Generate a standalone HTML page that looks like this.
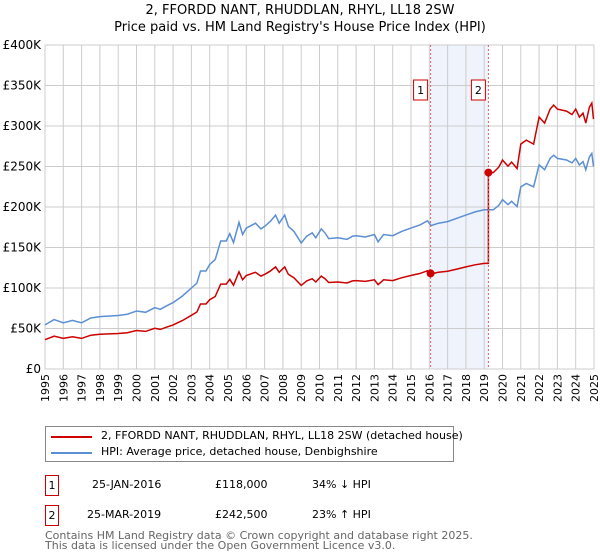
<!DOCTYPE html>
<html><head><meta charset="utf-8"><style>
body{margin:0;width:600px;height:560px;background:#fff;font-family:"DejaVu Sans","Liberation Sans",sans-serif;overflow:hidden;position:relative}
.t{position:absolute;font-size:12px;color:#000;white-space:nowrap}
</style></head><body>
<div class="t" style="left:0;width:600px;text-align:center;top:3px;font-size:13px">2, FFORDD NANT, RHUDDLAN, RHYL, LL18 2SW</div>
<div class="t" style="left:0;width:600px;text-align:center;top:20px;font-size:13px">Price paid vs. HM Land Registry's House Price Index (HPI)</div>
<svg id="c" width="600" height="420" style="position:absolute;left:0;top:0"></svg>
<div style="position:absolute;left:45px;top:426px;width:407px;height:34px;border:1px solid #888;font-size:11px">
<div style="position:absolute;left:5px;top:9px;width:41px;height:2px;background:#cc0000"></div>
<div class="t" style="left:55px;top:2px;font-size:11px">2, FFORDD NANT, RHUDDLAN, RHYL, LL18 2SW (detached house)</div>
<div style="position:absolute;left:5px;top:25px;width:41px;height:2px;background:#5b8fd4"></div>
<div class="t" style="left:55px;top:18px;font-size:11px">HPI: Average price, detached house, Denbighshire</div>
</div>
<div>
<div class="t" style="left:45px;top:475px;width:12px;height:19px;border:1px solid #cc0000;text-align:center;line-height:19px;font-size:11px">1</div>
<div class="t" style="left:92px;top:478px;font-size:11px">25-JAN-2016</div>
<div class="t" style="left:215px;top:478px;font-size:11px">£118,000</div>
<div class="t" style="left:312px;top:478px;font-size:11px">34% ↓ HPI</div>
</div>
<div>
<div class="t" style="left:45px;top:505px;width:12px;height:19px;border:1px solid #cc0000;text-align:center;line-height:19px;font-size:11px">2</div>
<div class="t" style="left:87px;top:508px;font-size:11px">25-MAR-2019</div>
<div class="t" style="left:215px;top:508px;font-size:11px">£242,500</div>
<div class="t" style="left:312px;top:508px;font-size:11px">23% ↑ HPI</div>
</div>
<div class="t" style="left:45px;top:531px;font-size:11px;color:#666;line-height:10px">Contains HM Land Registry data © Crown copyright and database right 2025.<br>This data is licensed under the Open Government Licence v3.0.</div>
<script>
const hpiYears=[1995,1995.5,1996,1996.5,1997,1997.5,1998,1999,1999.5,2000,2000.5,2001,2001.3,2001.7,2002,2002.5,2003,2003.3,2003.5,2003.8,2004,2004.3,2004.6,2004.9,2005.1,2005.3,2005.6,2005.8,2006,2006.5,2006.8,2007,2007.3,2007.6,2007.8,2008.1,2008.3,2008.6,2009,2009.3,2009.6,2009.8,2010.1,2010.3,2010.5,2011,2011.5,2011.8,2012,2012.5,2013,2013.2,2013.5,2014,2014.5,2015,2015.5,2015.9,2016.1,2016.5,2017,2017.5,2018,2018.5,2019,2019.5,2019.8,2020,2020.3,2020.5,2020.8,2021,2021.3,2021.7,2022,2022.3,2022.6,2022.8,2023,2023.5,2023.8,2024,2024.2,2024.4,2024.55,2024.75,2024.88,2024.97];
const hpiValues=[54.5,61,57,60,57,63,64.7,66,67.5,71.6,70,75.7,73.7,78.6,82,90,100,106,121,121,129,135,158,158,167,156,181,166,174,180,173,176,182,190,180,190,176,170,155.6,164,168,162,173,168,161,162,160,164,164.6,163,166,157,166,164.6,170,174,178,183,177,180,182,186,190,194,196.5,196.5,202,209,203,207,200.6,225,229,225,252,246,260,264,260,258,254.6,260,252,256,246,262,266,250];
const saleYears=[2016.07,2019.23];
const salePrices=[118,242.5];
const saleLabels=["1","2"];
const yTicks=[0,50,100,150,200,250,300,350,400];
const yTickLabels=["£0","£50K","£100K","£150K","£200K","£250K","£300K","£350K","£400K"];
const xTicks=[];for(let y=1995;y<=2025;y++)xTicks.push(y);
const X0=45,X1=594,Y0=369,Y1=45;
const sx=y=>X0+(y-1995)/30*(X1-X0);
const sy=v=>Y0-v/400*(Y0-Y1);
const svg=document.getElementById('c');const NS='http://www.w3.org/2000/svg';
function mk(t,a){const e=document.createElementNS(NS,t);for(const k in a)e.setAttribute(k,a[k]);svg.appendChild(e);return e;}
let e=mk('rect',{x:sx(saleYears[0]),y:Y1,width:sx(saleYears[1])-sx(saleYears[0]),height:Y0-Y1,fill:'#eef3fc'});


xTicks.forEach(y=>{const l=mk('line',{x1:sx(y),x2:sx(y),y1:Y1,y2:Y0,stroke:'#ccc'});


const t=mk('text',{x:0,y:0,'font-size':11,'text-anchor':'end',transform:`translate(${sx(y)+4},${Y0+5}) rotate(-90)`});t.textContent=y;

});
yTicks.forEach((v,i)=>{const l=mk('line',{x1:X0,x2:X1,y1:sy(v),y2:sy(v),stroke:'#ccc'});


const t=mk('text',{x:X0-4,y:sy(v)+4,'font-size':12,'text-anchor':'end'});t.textContent=yTickLabels[i];

});
e=mk('rect',{x:X0,y:Y1,width:X1-X0,height:Y0-Y1,fill:'none',stroke:'#ccc'});


function hpiAt(y){for(let i=1;i<hpiYears.length;i++)if(y<=hpiYears[i]){const f=(y-hpiYears[i-1])/(hpiYears[i]-hpiYears[i-1]);return hpiValues[i-1]+f*(hpiValues[i]-hpiValues[i-1]);}return hpiValues[hpiValues.length-1];}
const f1=salePrices[0]/hpiAt(saleYears[0]),f2=salePrices[1]/hpiAt(saleYears[1]);
let hp=hpiYears.map((y,i)=>sx(y).toFixed(1)+','+sy(hpiValues[i]).toFixed(1)).join(' ');
e=mk('polyline',{points:hp,fill:'none',stroke:'#5b8fd4','stroke-width':1.5});


let rp=[];hpiYears.forEach((y,i)=>{if(y<saleYears[1])rp.push([y,hpiValues[i]*f1]);});
rp.push([saleYears[1],hpiAt(saleYears[1])*f1]);rp.push([saleYears[1],salePrices[1]]);
hpiYears.forEach((y,i)=>{if(y>saleYears[1])rp.push([y,hpiValues[i]*f2]);});
e=mk('polyline',{points:rp.map(p=>sx(p[0]).toFixed(1)+','+sy(p[1]).toFixed(1)).join(' '),fill:'none',stroke:'#cc0000','stroke-width':1.5});


saleYears.forEach((y,i)=>{const l=mk('line',{x1:sx(y),x2:sx(y),y1:Y1,y2:Y0,stroke:'#e06060','stroke-dasharray':'2,2'});


const c=mk('circle',{cx:sx(y),cy:sy(salePrices[i]),r:4,fill:'#cc0000'});


const b=mk('rect',{x:sx(y)-17,y:80,width:14,height:20,fill:'#fff',stroke:'#cc0000'});


const t=mk('text',{x:sx(y)-10,y:94,'font-size':11,'text-anchor':'middle'});t.textContent=saleLabels[i];

});
</script>
</body></html>
